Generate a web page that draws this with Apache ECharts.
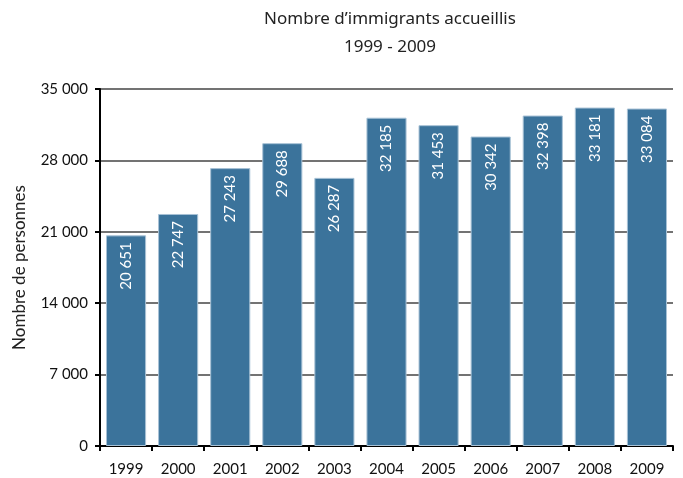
<!DOCTYPE html>
<html><head><meta charset="utf-8">
<script src="https://cdn.jsdelivr.net/npm/echarts@6/dist/echarts.min.js"></script>
<style>html,body{margin:0;padding:0;background:#fff}#c{width:683px;height:478px}</style>
</head><body><div id="c"></div>
<script>
const years = ['1999','2000','2001','2002','2003','2004','2005','2006','2007','2008','2009'];
const immigrants = [20651, 22747, 27243, 29688, 26287, 32185, 31453, 30342, 32398, 33181, 33084];
const titleLines = ['Nombre d\u2019immigrants accueillis', '1999 - 2009'];
const yName = 'Nombre de personnes';

function fmt(v){ return String(v).replace(/\B(?=(\d{3})+(?!\d))/g, ' '); }

const chart = echarts.init(document.getElementById('c'));
chart.setOption({
  animation: false,
  title: {
    text: titleLines.join('\n'),
    left: 385, top: 0, textAlign: 'center',
    textStyle: { fontFamily: 'Noto Sans', fontWeight: 'normal', fontSize: 17, color: '#222', lineHeight: 28 }
  },
  grid: { left: 100, right: 10, top: 89, bottom: 32, containLabel: false, outerBoundsMode: 'none' },
  xAxis: {
    type: 'category', data: years,
    axisLine: { lineStyle: { color: '#000', width: 2 } },
    axisTick: { show: true, length: 5, lineStyle: { color: '#000', width: 2 } },
    axisLabel: { margin: 16, fontFamily: 'Lato', fontSize: 15, color: '#111' }
  },
  yAxis: {
    type: 'value', min: 0, max: 35000, interval: 7000,
    name: yName, nameLocation: 'middle', nameGap: 72, nameRotate: 90,
    nameTextStyle: { fontFamily: 'Lato', fontSize: 17, color: '#222' },
    axisLine: { show: true, lineStyle: { color: '#000', width: 2 } },
    axisTick: { show: true, length: 5, lineStyle: { color: '#000', width: 2 } },
    axisLabel: { margin: 12, fontFamily: 'Lato', fontSize: 15, color: '#111', formatter: v => fmt(v) },
    splitLine: { show: true, lineStyle: { color: '#444', width: 1.5 } }
  },
  series: [{
    type: 'bar', data: immigrants, barCategoryGap: '23%',
    itemStyle: { color: '#3b739b', borderColor: '#a8c2d6', borderWidth: 1 },
    label: {
      show: true, position: 'insideTop', distance: 7, rotate: 90,
      align: 'right', verticalAlign: 'middle',
      fontFamily: 'Lato', fontSize: 15, color: '#fff',
      formatter: p => fmt(p.value)
    }
  }]
});
</script></body></html>
